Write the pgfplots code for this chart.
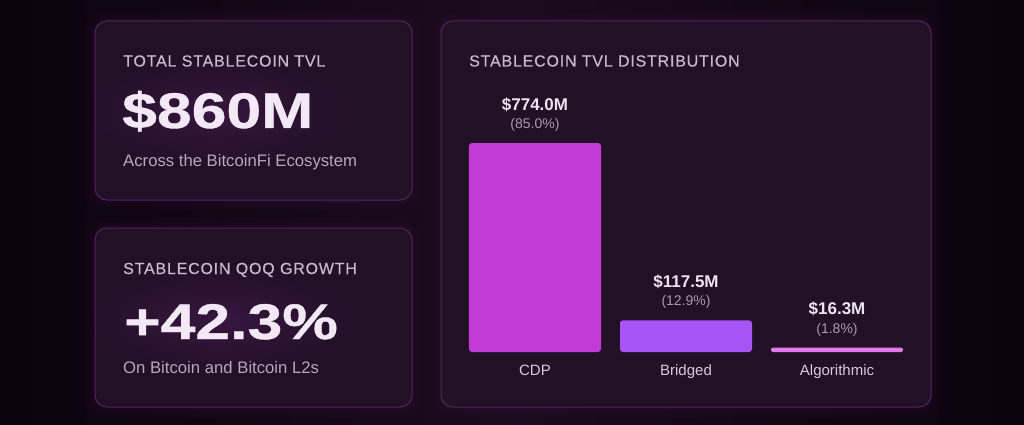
\documentclass[border=0pt]{standalone}
\usepackage{pgfplots}
\pgfplotsset{compat=1.18}
\usepackage{pgfplotstable}
\usepackage{fontspec}
\setmainfont{Liberation Sans}
\newfontfamily\capsfont[LetterSpace=5,FakeBold=0.4]{Liberation Sans}
\newfontfamily\bigfont[FakeStretch=1.25,FakeBold=0.8]{Liberation Sans Bold}

\definecolor{bgdark}{HTML}{0C030E}
\definecolor{bgmid}{HTML}{1B0B1F}
\definecolor{cardbg}{HTML}{211026}
\definecolor{cardglow}{HTML}{37163F}
\definecolor{cardborder}{HTML}{55225F}
\definecolor{titletext}{HTML}{C9B8CE}
\definecolor{bignum}{HTML}{F3E8F6}
\definecolor{subtext}{HTML}{B7A6BC}
\definecolor{cattext}{HTML}{D8CADC}
\definecolor{valtext}{HTML}{EEE3F1}
\definecolor{pcttext}{HTML}{A998AE}
\definecolor{cdp}{HTML}{C33AD6}
\definecolor{bridged}{HTML}{A855F7}
\definecolor{algo}{HTML}{E078EA}

% TVL by stablecoin type (USD millions) and share of total (%)
\pgfplotstableread{
x tvl   pct
0 774.0 85.0
}\cdptab
\pgfplotstableread{
x tvl   pct
1 117.5 12.9
}\bridgedtab
\pgfplotstableread{
x tvl   pct
2 16.3  1.8
}\algotab

\pgfplotsset{
  tvlbar/.style={ybar, bar width=132pt, bar shift=0pt, draw=none},
}

\begin{document}
\begin{tikzpicture}
\begin{scope}[x=1pt,y=-1pt]
  \path[use as bounding box] (0,0) rectangle (1024,425);
  % page background
  \shade[left color=bgdark, right color=bgdark, middle color=bgmid] (0,0) rectangle (1024,425);
  % soft halos round the cards
  \foreach \g/\o in {10/0.04,6/0.05,3/0.07}{
    \fill[cardborder, opacity=\o, rounded corners=16] (95-\g,21-\g) rectangle (412+\g,200+\g);
    \fill[cardborder, opacity=\o, rounded corners=16] (95-\g,228-\g) rectangle (412+\g,407+\g);
    \fill[cardborder, opacity=\o, rounded corners=16] (441-\g,21-\g) rectangle (931+\g,407+\g);
  }
  % cards
  \fill[cardbg, rounded corners=12] (95,21) rectangle (412,200);
  \fill[cardbg, rounded corners=12] (95,228) rectangle (412,407);
  \fill[cardbg, rounded corners=12] (441,21) rectangle (931,407);
  % glow behind the headline numbers
  \begin{scope}
    \clip[rounded corners=12] (95,21) rectangle (412,200);
    \shade[inner color=cardglow, outer color=cardbg] (215,112) ellipse (140 and 55);
  \end{scope}
  \begin{scope}
    \clip[rounded corners=12] (95,228) rectangle (412,407);
    \shade[inner color=cardglow, outer color=cardbg] (220,320) ellipse (140 and 55);
  \end{scope}
  \draw[cardborder, line width=1pt, rounded corners=12] (95,21) rectangle (412,200);
  \draw[cardborder, line width=1pt, rounded corners=12] (95,228) rectangle (412,407);
  \draw[cardborder, line width=1pt, rounded corners=12] (441,21) rectangle (931,407);

  % card 1
  \node[anchor=base west, inner sep=0, text=titletext, font=\capsfont\fontsize{16}{18}\selectfont] at (123,66.5) {TOTAL STABLECOIN TVL};
  \node[anchor=base west, inner sep=0, text=bignum, font=\bigfont\fontsize{50}{56}\selectfont] at (122,128) {\$860M};
  \node[anchor=base west, inner sep=0, text=subtext, font=\fontsize{16.7}{18}\selectfont] at (123,166.5) {Across the BitcoinFi Ecosystem};

  % card 2
  \node[anchor=base west, inner sep=0, text=titletext, font=\capsfont\fontsize{16}{18}\selectfont] at (123,274) {STABLECOIN QOQ GROWTH};
  \node[anchor=base west, inner sep=0, text=bignum, font=\bigfont\fontsize{50}{56}\selectfont] at (124,339) {+42.3\%};
  \node[anchor=base west, inner sep=0, text=subtext, font=\fontsize{16.7}{18}\selectfont] at (123,373) {On Bitcoin and Bitcoin L2s};

  % card 3
  \node[anchor=base west, inner sep=0, text=titletext, font=\capsfont\fontsize{16}{18}\selectfont] at (469,66.5) {STABLECOIN TVL DISTRIBUTION};
\end{scope}

\begin{axis}[
  at={(469pt,-352pt)}, anchor=south west,
  scale only axis, width=434pt, height=216pt,
  xmin=-0.437, xmax=2.437, ymin=0, ymax=800,
  axis lines=none, clip=false,
  /pgf/number format/assume math mode=true,
  point meta=explicit symbolic,
  visualization depends on={rawy \as \tvlvalue},
  nodes near coords={%
    \textbf{\$\pgfmathprintnumber[fixed,fixed zerofill,precision=1]{\tvlvalue}M}\\[1.3pt]%
    {\fontsize{14}{17}\selectfont\color{pcttext}(\pgfplotspointmeta\%)}},
  every node near coord/.append style={anchor=south, align=center, inner sep=0pt, yshift=11.5pt,
    text=valtext, font=\fontsize{17}{17}\selectfont},
]
\addplot[tvlbar, fill=cdp, rounded corners=3pt] table[x=x, y=tvl, meta=pct] {\cdptab};
\addplot[tvlbar, fill=bridged, rounded corners=3pt] table[x=x, y=tvl, meta=pct] {\bridgedtab};
\addplot[tvlbar, fill=algo, rounded corners=2pt] table[x=x, y=tvl, meta=pct] {\algotab};
% category names under the bars
\node[anchor=base, text=cattext, font=\fontsize{15}{17}\selectfont] at (axis cs:0,0) [yshift=-23pt] {CDP};
\node[anchor=base, text=cattext, font=\fontsize{15}{17}\selectfont] at (axis cs:1,0) [yshift=-23pt] {Bridged};
\node[anchor=base, text=cattext, font=\fontsize{15}{17}\selectfont] at (axis cs:2,0) [yshift=-23pt] {Algorithmic};
\end{axis}
\end{tikzpicture}
\end{document}
